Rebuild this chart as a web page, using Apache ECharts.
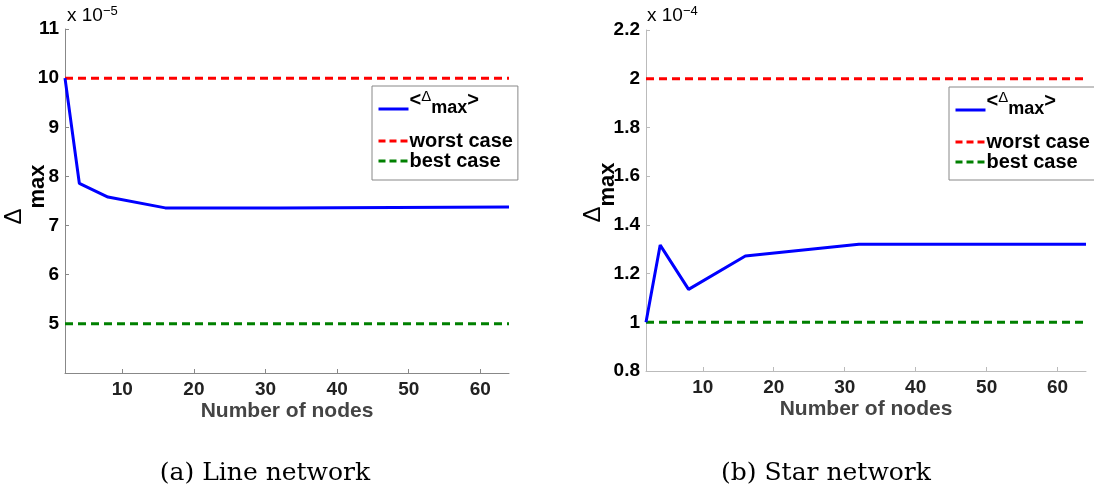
<!DOCTYPE html>
<html>
<head>
<meta charset="utf-8">
<script src="https://cdn.jsdelivr.net/npm/echarts@6/dist/echarts.min.js"></script>
<style>
html,body{margin:0;padding:0;background:#fff;}
#c{width:1094px;height:492px;}
</style>
</head>
<body>
<div id="c"></div>
<script>
// ---- data ----
const nodes = [2, 4, 8, 16, 32, 64];
// (a) Line network, values in units of 1e-5
const lineAvg = [10, 7.86, 7.58, 7.36, 7.36, 7.38];
const lineWorst = 10;
const lineBest = 5;
// (b) Star network, values in units of 1e-4
const starAvg = [1.0, 1.317, 1.135, 1.272, 1.32, 1.32];
const starWorst = 2;
const starBest = 1;
const xTicks = [10, 20, 30, 40, 50, 60];
const yTicksLine = [5, 6, 7, 8, 9, 10, 11];
const yTicksStar = [0.8, 1, 1.2, 1.4, 1.6, 1.8, 2, 2.2];
const captions = ['(a) Line network', '(b) Star network'];
const exps = ['−5', '−4'];
const seriesNames = ['avg', 'worst case', 'best case'];

const chart = echarts.init(document.getElementById('c'), null, {renderer: 'canvas'});

const FONT = 'Liberation Sans, Arial, Helvetica, sans-serif';
function nameRich(pad, lead) {
  return {
    d: {fontFamily: FONT, fontSize: 24, color: '#000', padding: [0, 0, pad, lead]},
    s: {fontFamily: FONT, fontSize: 22, fontWeight: 'bold', color: '#000', padding: [pad, 0, 0, 0]}
  };
}
const legRich = {
  t: {fontFamily: FONT, fontSize: 20, fontWeight: 'bold', color: '#000'},
  tt: {fontFamily: FONT, fontSize: 20, fontWeight: 'bold', color: '#000', padding: [0, 0, 18, 0]},
  ld: {fontFamily: FONT, fontSize: 15, color: '#000', padding: [0, 0, 24, 0]},
  ls: {fontFamily: FONT, fontSize: 18, fontWeight: 'bold', color: '#000', padding: [12, 0, 14, 0], lineHeight: 44}
};

function xAxis(i, axisColor) {
  return {
    type: 'value', gridIndex: i, min: 2, max: 64,
    name: 'Number of nodes', nameLocation: 'middle', nameGap: 28, nameMoveOverlap: false,
    nameTextStyle: {fontFamily: FONT, fontSize: 21, fontWeight: 'bold', color: '#444'},
    axisLine: {show: true, lineStyle: {color: axisColor, width: 1}},
    axisTick: {show: true, inside: true, length: 4, customValues: xTicks, lineStyle: {color: axisColor}},
    axisLabel: {customValues: xTicks, fontFamily: FONT, fontSize: 19, fontWeight: 'bold', color: '#222', margin: 7},
    splitLine: {show: false}
  };
}
function yAxis(i, min, max, ticks, axisColor, gap, pad, lead) {
  return {
    type: 'value', gridIndex: i, min: min, max: max,
    name: '{d|Δ}{s|max}', nameLocation: 'middle', nameRotate: 90, nameGap: gap, nameMoveOverlap: false,
    nameTextStyle: {rich: nameRich(pad, lead)},
    axisLine: {show: true, lineStyle: {color: axisColor, width: 1}},
    axisTick: {show: true, inside: true, length: 4, customValues: ticks, lineStyle: {color: axisColor}},
    axisLabel: {customValues: ticks, fontFamily: FONT, fontSize: 19, fontWeight: 'bold', color: '#000', margin: 6,
      formatter: v => String(parseFloat(Number(v).toFixed(2)))},
    splitLine: {show: false}
  };
}
function pairs(ys) { return nodes.map((x, k) => [x, ys[k]]); }
function flat(v) { return [[nodes[0], v], [nodes[nodes.length - 1], v]]; }

function seriesFor(i, avg, worst, best) {
  return [
    {name: seriesNames[0], type: 'line', xAxisIndex: i, yAxisIndex: i, data: pairs(avg), symbol: 'none',
     lineStyle: {color: '#0000ff', width: 3}, itemStyle: {color: '#0000ff'}, z: 3, animation: false},
    {name: seriesNames[1], type: 'line', xAxisIndex: i, yAxisIndex: i, data: flat(worst), symbol: 'none',
     lineStyle: {color: '#ff0000', width: 3, type: [8, 5]}, itemStyle: {color: '#ff0000'}, z: 2, animation: false},
    {name: seriesNames[2], type: 'line', xAxisIndex: i, yAxisIndex: i, data: flat(best), symbol: 'none',
     lineStyle: {color: '#008000', width: 3, type: [8, 5]}, itemStyle: {color: '#008000'}, z: 2, animation: false}
  ];
}
function legend(left, top, bottomPad) {
  return {
    orient: 'vertical', left: left, top: top,
    data: [
      {name: seriesNames[0], lineStyle: {width: 3, type: 'solid'}},
      {name: seriesNames[1], lineStyle: {width: 3, type: [7, 4]}},
      {name: seriesNames[2], lineStyle: {width: 3, type: [7, 4]}}
    ],
    backgroundColor: '#fff', borderColor: '#888', borderWidth: 1,
    padding: [1, 5, bottomPad, 5], itemGap: 0, itemWidth: 30, itemHeight: 19,
    selectedMode: false,
    itemStyle: {color: 'rgba(0,0,0,0)', borderWidth: 0, opacity: 0},
    formatter: n => n === 'avg' ? '{tt|<}{ld|Δ}{ls|max}{tt|>}' : '{t|' + n + '}',
    textStyle: {rich: legRich, padding: [0, 0, 0, -4]}
  };
}

const option = {
  animation: false,
  backgroundColor: '#fff',
  grid: [
    {left: 65, top: 29, width: 444, height: 344, containLabel: false, outerBoundsMode: 'none'},
    {left: 646, top: 30, width: 440, height: 341, containLabel: false, outerBoundsMode: 'none'}
  ],
  xAxis: [xAxis(0, '#888'), xAxis(1, '#bbb')],
  yAxis: [yAxis(0, 4, 11, yTicksLine, '#888', 15, 24, 13), yAxis(1, 0.8, 2.2, yTicksStar, '#bbb', 26, 15, 16)],
  legend: [legend(372, 86, 9), legend(949, 87, 8)],
  series: [].concat(seriesFor(0, lineAvg, lineWorst, lineBest), seriesFor(1, starAvg, starWorst, starBest)),
  graphic: [
    {type: 'text', left: 67, top: 5, style: {text: '{a|x 10}{b|' + exps[0] + '}',
      rich: {a: {fontFamily: FONT, fontSize: 19, color: '#000', padding: [9, 0, 0, 0]}, b: {fontFamily: FONT, fontSize: 13, color: '#000'}}}},
    {type: 'text', left: 647, top: 5, style: {text: '{a|x 10}{b|' + exps[1] + '}',
      rich: {a: {fontFamily: FONT, fontSize: 19, color: '#000', padding: [9, 0, 0, 0]}, b: {fontFamily: FONT, fontSize: 13, color: '#000'}}}},
    {type: 'text', x: 265, y: 473, style: {text: captions[0], font: '25px "DejaVu Serif", serif', fill: '#000', align: 'center', verticalAlign: 'middle'}},
    {type: 'text', x: 826, y: 473, style: {text: captions[1], font: '25px "DejaVu Serif", serif', fill: '#000', align: 'center', verticalAlign: 'middle'}}
  ]
};
chart.setOption(option);
</script>
</body>
</html>
